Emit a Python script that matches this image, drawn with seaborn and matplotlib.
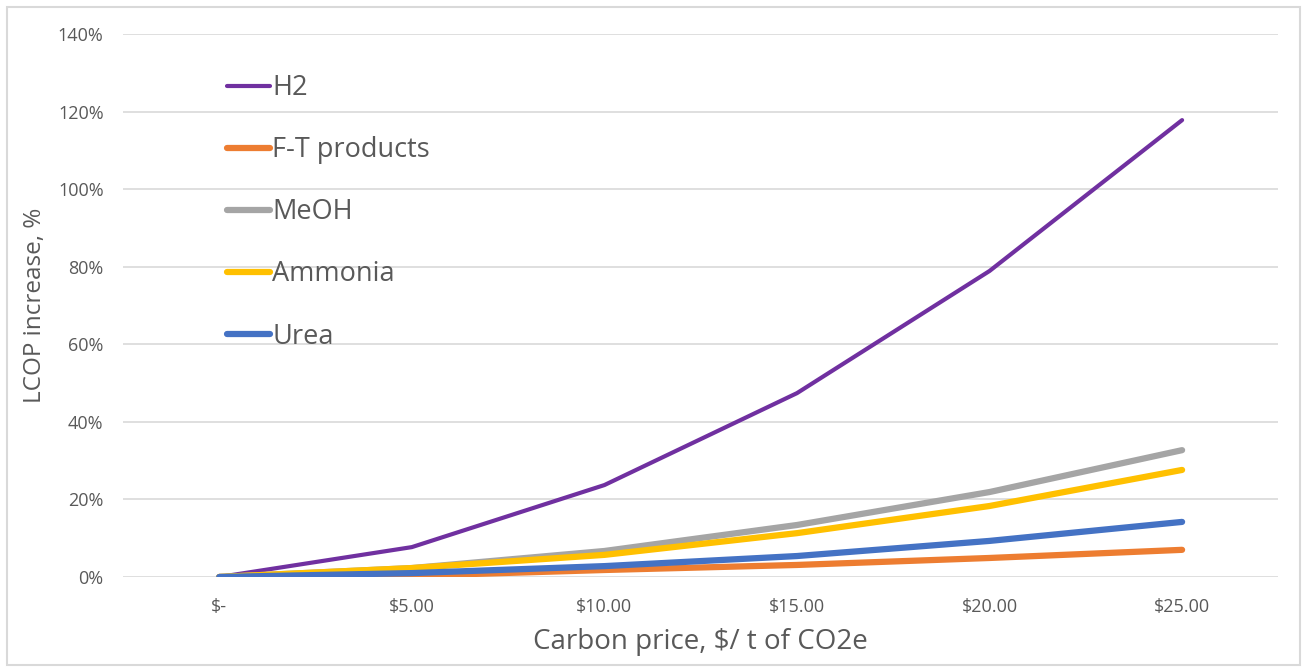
import matplotlib
matplotlib.use("Agg")
import matplotlib.pyplot as plt
import matplotlib.patches as mpatches
import pandas as pd
import seaborn as sns

# Carbon price categories ($ per t CO2e) and their axis labels
prices = [0, 5, 10, 15, 20, 25]
price_labels = ["$-", "$5.00", "$10.00", "$15.00", "$20.00", "$25.00"]

# LCOP increase (fraction) per product
h2 = [0.0, 0.077, 0.237, 0.474, 0.789, 1.178]
ft_products = [0.0, 0.003, 0.018, 0.031, 0.049, 0.070]
meoh = [0.0, 0.023, 0.067, 0.134, 0.219, 0.327]
ammonia = [0.0, 0.023, 0.057, 0.113, 0.183, 0.276]
urea = [0.0, 0.010, 0.028, 0.054, 0.093, 0.142]

series_names = ["H2", "F-T products", "MeOH", "Ammonia", "Urea"]
series_values = [h2, ft_products, meoh, ammonia, urea]
colors = ["#7030A0", "#ED7D31", "#A5A5A5", "#FFC000", "#4472C4"]
widths = [3.0, 4.5, 4.5, 4.5, 4.5]

df = pd.DataFrame(
    [(name, p, v) for name, vals in zip(series_names, series_values)
     for p, v in zip(prices, vals)],
    columns=["product", "price", "increase"],
)

sns.set_theme(style="white")
plt.rcParams["font.family"] = ["Open Sans", "DejaVu Sans"]
text_color = "#595959"

fig = plt.figure(figsize=(13.07, 6.72), dpi=100)
ax = fig.add_axes([0.0941, 0.1414, 0.884, 0.808])

for name, color, lw in zip(series_names, colors, widths):
    sns.lineplot(data=df[df["product"] == name], x="price", y="increase",
                 color=color, linewidth=lw, label=name, ax=ax,
                 solid_capstyle="round", zorder=3)

ax.set_xlim(-2.5, 27.5)
ax.set_ylim(0, 1.4)
ax.set_xticks(prices)
ax.set_xticklabels(price_labels)
ax.set_yticks([i * 0.2 for i in range(8)])
ax.set_yticklabels([f"{i * 20}%" for i in range(8)])
ax.tick_params(axis="both", length=0, labelsize=13, labelcolor=text_color)
ax.tick_params(axis="y", pad=14)
ax.tick_params(axis="x", pad=15)

ax.grid(axis="y", color="#D9D9D9", linewidth=1.2)
ax.set_axisbelow(True)
for side in ["top", "right", "left", "bottom"]:
    ax.spines[side].set_visible(False)

ax.set_xlabel("Carbon price, $/ t of CO2e", fontsize=20, color=text_color, labelpad=9)
ax.set_ylabel("LCOP increase, %", fontsize=17.5, color=text_color, labelpad=8)

leg = ax.legend(loc="upper left", bbox_to_anchor=(227 / 1307, 1 - 74 / 672),
                bbox_transform=fig.transFigure, frameon=False, fontsize=19.5,
                handlelength=1.6, handletextpad=0.08, labelspacing=1.26,
                borderpad=0, borderaxespad=0)
for text in leg.get_texts():
    text.set_color(text_color)

# Outer chart border
fig.patches.append(mpatches.Rectangle((7 / 1307, 7 / 672), 1293 / 1307, 658 / 672,
                                      transform=fig.transFigure, fill=False,
                                      edgecolor="#D9D9D9", linewidth=1.5))

fig.savefig("out.png", dpi=100)
